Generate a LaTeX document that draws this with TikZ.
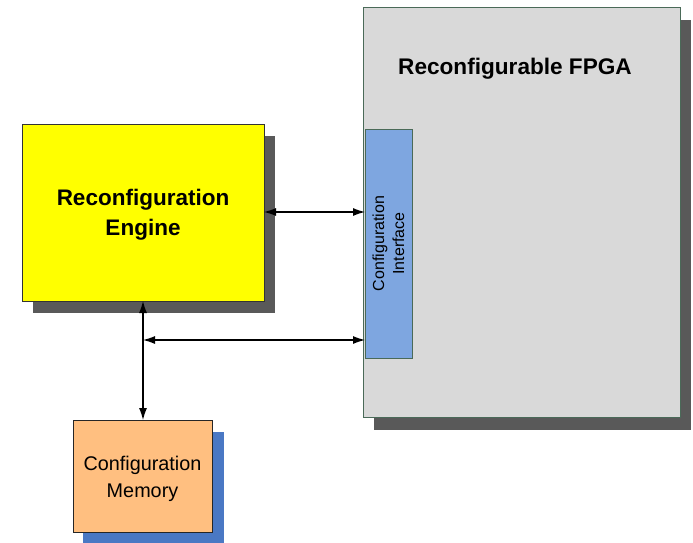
\documentclass[tikz,border=0pt]{standalone}
\usepackage{fontspec}
\setmainfont{Liberation Sans}
\usetikzlibrary{arrows.meta}
\definecolor{shadowgray}{HTML}{595959}
\definecolor{fpgagray}{HTML}{D9D9D9}
\definecolor{edgegreen}{HTML}{4A6A58}
\definecolor{ifblue}{HTML}{7EA6E0}
\definecolor{peach}{HTML}{FFBF80}
\definecolor{memshadow}{HTML}{4A78C4}
\definecolor{engineyellow}{HTML}{FFFF00}
\tikzset{
  block/.style={draw, line width=0.8pt, inner sep=0pt, outer sep=0pt},
  link/.style={line width=1.1pt, {Latex[length=12pt,width=8pt]}-{Latex[length=12pt,width=8pt]}},
}
\begin{document}
\begin{tikzpicture}[x=1pt,y=-1pt]
\useasboundingbox (0,0) rectangle (693,543);
% drop shadows
\fill[shadowgray] (374,20) rectangle (691,430);
\fill[shadowgray] (33,136) rectangle (275,313);
\fill[memshadow] (83,432) rectangle (224,543);
% FPGA
\node[block, draw=edgegreen, fill=fpgagray, minimum width=317pt, minimum height=410pt, anchor=north west] (fpga) at (363,7) {};
\node[font=\bfseries\fontsize{22.6}{26}\selectfont] (fpgalabel) at (515,69) {Reconfigurable FPGA};
% configuration interface
\node[block, draw=edgegreen, fill=ifblue, minimum width=47pt, minimum height=229pt, anchor=north west] (cif) at (365,129) {};
\node[rotate=90, align=center, font=\fontsize{16}{20}\selectfont] (ciflabel) at (cif.center) {Configuration\\Interface};
% reconfiguration engine
\node[block, draw=black!80, fill=engineyellow, minimum width=242pt, minimum height=177pt, anchor=north west] (engine) at (22,124) {};
\node[align=center, font=\bfseries\fontsize{22.5}{30}\selectfont] (enginelabel) at ([yshift=-2pt]engine.center) {Reconfiguration\\Engine};
% configuration memory
\node[block, draw=black!85, fill=peach, minimum width=139pt, minimum height=112pt, anchor=north west] (mem) at (73,420) {};
\node[align=center, font=\fontsize{19.8}{27}\selectfont] (memlabel) at ([yshift=-3pt]mem.center) {Configuration\\Memory};
% connectors
\coordinate (busjoin) at (143,340);
\draw[link] (engine.east |- 0,212) -- (cif.west |- 0,212);
\draw[link] (143,301) -- (mem.north -| 143,0);
\draw[link] (busjoin) -- (cif.west |- busjoin);
\end{tikzpicture}
\end{document}
